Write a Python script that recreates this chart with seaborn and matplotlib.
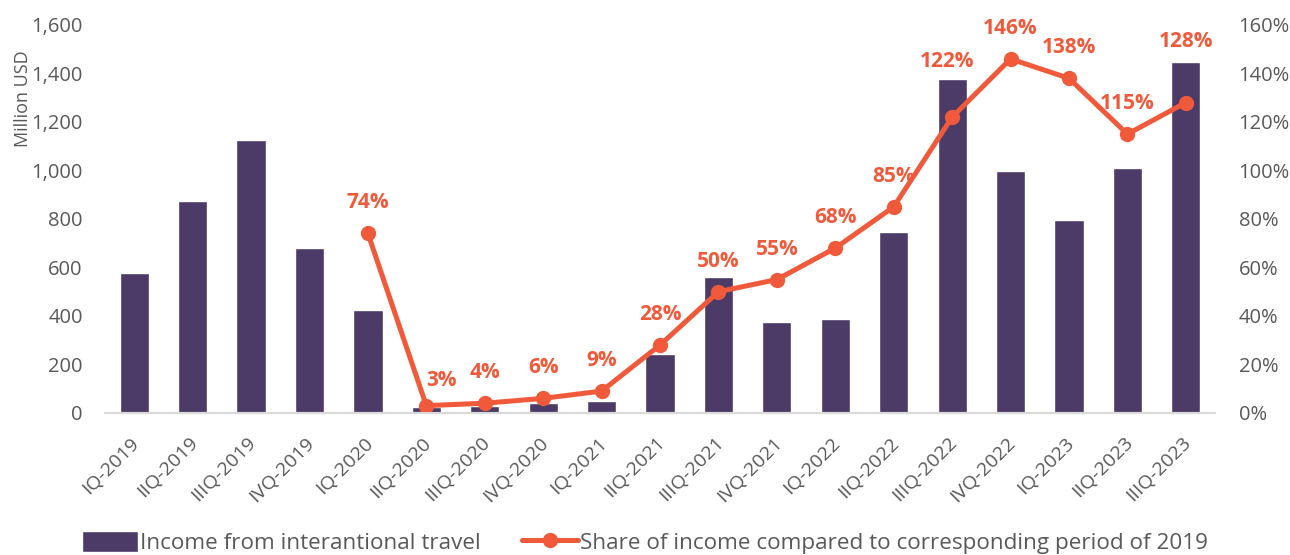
import matplotlib
matplotlib.use("Agg")
import matplotlib.pyplot as plt
from matplotlib.ticker import FuncFormatter
from matplotlib.transforms import ScaledTranslation
import seaborn as sns
import pandas as pd

# Data
quarters = ["IQ-2019", "IIQ-2019", "IIIQ-2019", "IVQ-2019",
            "IQ-2020", "IIQ-2020", "IIIQ-2020", "IVQ-2020",
            "IQ-2021", "IIQ-2021", "IIIQ-2021", "IVQ-2021",
            "IQ-2022", "IIQ-2022", "IIIQ-2022", "IVQ-2022",
            "IQ-2023", "IIQ-2023", "IIIQ-2023"]
income = [577, 874, 1126, 682,
          423, 25, 29, 40,
          51, 243, 561, 375,
          388, 746, 1377, 998,
          796, 1010, 1449]
share_quarters = quarters[4:]
share = [74, 3, 4, 6, 9, 28, 50, 55, 68, 85, 122, 146, 138, 115, 128]

BAR_COLOR = "#4B3B66"
LINE_COLOR = "#F05A3B"
TEXT_COLOR = "#595959"

# label nudges (points) where the labels dodge the line / bars
label_nudge = {3: (11, 18), 122: (-4, 40), 128: (0, 44)}

sns.set_style("white")
plt.rcParams['font.family'] = ['Open Sans', 'DejaVu Sans']

bars_df = pd.DataFrame({"quarter": quarters, "income": income})
line_df = pd.DataFrame({"pos": [quarters.index(q) for q in share_quarters],
                        "share": share})

fig = plt.figure(figsize=(12.9, 5.55), dpi=100)
ax = fig.add_axes([0.0814, 0.256, 0.8605, 0.699])

sns.barplot(data=bars_df, x="quarter", y="income", color=BAR_COLOR,
            width=0.5, saturation=1, ax=ax, label="Income from interantional travel")
ax.set_ylim(0, 1600)
ax.set_yticks(range(0, 1601, 200))
ax.yaxis.set_major_formatter(FuncFormatter(lambda v, p: f"{int(v):,}"))
ax.set_xlim(-0.5, len(quarters) - 0.5)
ax.set_xlabel("")
ax.set_ylabel("Million USD", fontsize=13, color=TEXT_COLOR)
ax.yaxis.set_label_coords(-0.066, 0.81)
ax.tick_params(axis="y", length=0, labelsize=14.5, labelcolor=TEXT_COLOR, pad=16)
ax.tick_params(axis="x", length=0, labelsize=14, labelcolor=TEXT_COLOR, pad=15)
shift = ScaledTranslation(-0.04, 0, fig.dpi_scale_trans)
for lab in ax.get_xticklabels():
    lab.set_rotation(45)
    lab.set_ha("right")
    lab.set_va("top")
    lab.set_rotation_mode("anchor")
    lab.set_transform(lab.get_transform() + shift)

ax2 = ax.twinx()
sns.lineplot(data=line_df, x="pos", y="share", color=LINE_COLOR, linewidth=3.6,
             marker="o", markersize=11, markeredgewidth=0, ax=ax2,
             label="Share of income compared to corresponding period of 2019")
ax2.set_ylim(0, 160)
ax2.set_yticks(range(0, 161, 20))
ax2.yaxis.set_major_formatter(FuncFormatter(lambda v, p: f"{int(v)}%"))
ax2.set_ylabel("")
ax2.set_xlabel("")
ax2.tick_params(axis="y", length=0, labelsize=14.5, labelcolor=TEXT_COLOR, pad=17)

for x, v in zip(line_df["pos"], line_df["share"]):
    dx, dy = label_nudge.get(v, (0, 22))
    ax2.annotate(f"{v}%", (x, v), xytext=(dx, dy), textcoords="offset points",
                 ha="center", va="center", fontsize=15, fontweight="bold",
                 color=LINE_COLOR)

for a in (ax, ax2):
    for s in ("top", "left", "right"):
        a.spines[s].set_visible(False)
    a.spines["bottom"].set_color("#D9D9D9")
    a.spines["bottom"].set_linewidth(1.5)

h1, l1 = ax.get_legend_handles_labels()
h2, l2 = ax2.get_legend_handles_labels()
if ax.get_legend():
    ax.get_legend().remove()
if ax2.get_legend():
    ax2.get_legend().remove()
fig.legend(h1 + h2, l1 + l2, loc="lower center", bbox_to_anchor=(0.5, -0.035),
           ncol=2, frameon=False, fontsize=16.2, handlelength=2.5, handleheight=1.0,
           columnspacing=1.8, handletextpad=0.1, labelcolor=TEXT_COLOR)

fig.savefig("out.png", dpi=100)
